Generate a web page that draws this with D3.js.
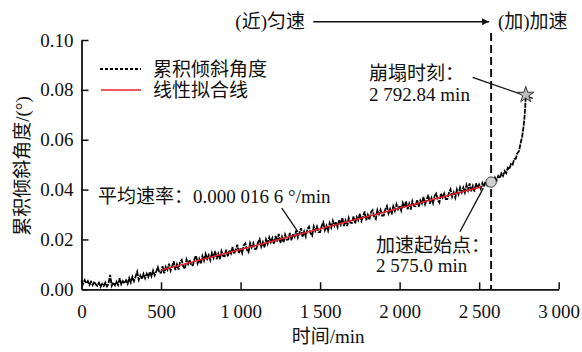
<!DOCTYPE html>
<html><head><meta charset="utf-8">
<script src="https://cdn.jsdelivr.net/npm/d3@7/dist/d3.min.js"></script>
<style>
body{margin:0;background:#fff;}
svg{display:block;}
</style></head>
<body>
<svg id="chart" width="582" height="352"></svg>
<script>
// ---- data ----
const sampleStep = 10; // minutes between samples, starting at t = 0
const tiltValues = [
0.0036,0.0022,0.0037,0.0024,0.0033,0.0018,0.0030,0.0017,0.0031,0.0019,
0.0014,0.0026,0.0010,0.0022,0.0013,0.0027,0.0012,0.0023,0.0058,0.0014,
0.0027,0.0016,0.0031,0.0018,0.0044,0.0020,0.0033,0.0024,0.0036,0.0022,
0.0045,0.0028,0.0050,0.0033,0.0051,0.0070,0.0038,0.0055,0.0041,0.0062,
0.0044,0.0063,0.0049,0.0070,0.0052,0.0075,0.0056,0.0072,0.0088,0.0066,
0.0067,0.0093,0.0064,0.0090,0.0078,0.0103,0.0075,0.0093,0.0112,0.0077,
0.0100,0.0079,0.0109,0.0118,0.0091,0.0082,0.0119,0.0101,0.0118,0.0096,
0.0096,0.0121,0.0135,0.0104,0.0122,0.0102,0.0133,0.0115,0.0142,0.0122,
0.0137,0.0117,0.0146,0.0127,0.0154,0.0121,0.0143,0.0121,0.0153,0.0134,
0.0133,0.0159,0.0131,0.0157,0.0144,0.0170,0.0142,0.0159,0.0179,0.0144,
0.0166,0.0146,0.0176,0.0184,0.0158,0.0149,0.0185,0.0168,0.0185,0.0162,
0.0163,0.0188,0.0201,0.0171,0.0189,0.0168,0.0200,0.0182,0.0208,0.0189,
0.0205,0.0181,0.0214,0.0192,0.0222,0.0186,0.0210,0.0188,0.0219,0.0199,
0.0200,0.0226,0.0197,0.0223,0.0211,0.0236,0.0208,0.0226,0.0245,0.0210,
0.0232,0.0212,0.0242,0.0251,0.0224,0.0215,0.0252,0.0234,0.0251,0.0229,
0.0229,0.0254,0.0268,0.0237,0.0255,0.0235,0.0266,0.0248,0.0275,0.0255,
0.0270,0.0250,0.0279,0.0260,0.0287,0.0254,0.0276,0.0254,0.0286,0.0267,
0.0266,0.0292,0.0264,0.0290,0.0277,0.0303,0.0275,0.0292,0.0312,0.0277,
0.0299,0.0279,0.0309,0.0317,0.0291,0.0282,0.0318,0.0301,0.0318,0.0295,
0.0296,0.0321,0.0334,0.0304,0.0322,0.0301,0.0333,0.0315,0.0341,0.0322,
0.0336,0.0316,0.0346,0.0327,0.0353,0.0321,0.0343,0.0320,0.0353,0.0334,
0.0333,0.0359,0.0331,0.0356,0.0344,0.0370,0.0341,0.0359,0.0379,0.0343,
0.0366,0.0346,0.0375,0.0384,0.0358,0.0348,0.0385,0.0368,0.0384,0.0362,
0.0362,0.0387,0.0401,0.0371,0.0388,0.0368,0.0400,0.0381,0.0408,0.0389,
0.0408,0.0388,0.0418,0.0398,0.0425,0.0393,0.0414,0.0392,0.0425,0.0405,
0.0420,0.0404,0.0426,0.0411,0.0432,0.0418,0.0437,0.0424,0.0440,0.0428,
0.0448,0.0437,0.0455,0.0446,0.0465,0.0455,0.0475,0.0466,0.0488,0.0482,
0.0503,0.0500,0.0522,0.0524,0.0546,0.0553,0.0585,0.0612,0.0657
];
const tailTimes  = [2785, 2790, 2792.84];
const tailValues = [0.0690, 0.0735, 0.0780];

const fitTimes  = [500, 2515];
const fitValues = [0.0077, 0.0411];

const onsetTime = 2575.0, onsetValue = 0.0430;
const collapseTime = 2792.84, collapseValue = 0.0780;

const xTicks = [0, 500, 1000, 1500, 2000, 2500, 3000];
const yTicks = [0.00, 0.02, 0.04, 0.06, 0.08, 0.10];

const legendLabels = ["累积倾斜角度", "线性拟合线"];
const phaseLabels = ["(近)匀速", "(加)加速"];
const xTitle = "时间/min";
const yTitle = "累积倾斜角度/(°)";
const rateLabel = "平均速率：0.000 016 6 °/min";
const onsetLabels = ["加速起始点：", "2 575.0 min"];
const collapseLabels = ["崩塌时刻：", "2 792.84 min"];

// ---- chart ----
const FONT = "Liberation Serif, Times New Roman, Noto Sans CJK SC, serif";
const svg = d3.select("#chart");
const x = d3.scaleLinear().domain([0, 3000]).range([81.5, 558.7]);
const y = d3.scaleLinear().domain([0, 0.10]).range([289.3, 40]);
const FS = 19;

const series = tiltValues.map((v, i) => ({t: i * sampleStep, v}))
  .concat(tailTimes.map((t, i) => ({t, v: tailValues[i]})));

// axes
const thin = "\u2009";
const xAxis = d3.axisBottom(x).tickValues(xTicks).tickSizeInner(-7).tickSizeOuter(0).tickPadding(15)
  .tickFormat(d => d >= 1000 ? Math.floor(d/1000) + thin + d3.format("03d")(d % 1000) : String(d));
const yAxis = d3.axisLeft(y).tickValues(yTicks).tickSizeInner(-7).tickSizeOuter(0).tickPadding(8)
  .tickFormat(d3.format(".2f"));

const gx = svg.append("g").attr("transform", `translate(0,${y(0)})`).call(xAxis);
const gy = svg.append("g").attr("transform", `translate(${x(0)},0)`).call(yAxis);
[gx, gy].forEach(g => {
  g.attr("font-family", null).attr("font-size", null);
  g.selectAll("path.domain").attr("stroke", "#111").attr("stroke-width", 1.8);
  g.selectAll(".tick line").attr("stroke", "#111").attr("stroke-width", 1.5);
  g.selectAll(".tick text").style("font-family", FONT).style("font-size", FS + "px").attr("fill", "#111");
});

// vertical dashed onset line
svg.append("line")
  .attr("x1", x(onsetTime)).attr("x2", x(onsetTime))
  .attr("y1", 33).attr("y2", y(0))
  .attr("stroke", "#111").attr("stroke-width", 2).attr("stroke-dasharray", "8 4");

// data line
const line = d3.line().x(d => x(d.t)).y(d => y(d.v));
svg.append("path").datum(series).attr("d", line)
  .attr("fill", "none").attr("stroke", "#000").attr("stroke-width", 1.8)
  .attr("stroke-dasharray", "5 1");

// fit line
svg.append("path").datum(fitTimes.map((t, i) => ({t, v: fitValues[i]}))).attr("d", line)
  .attr("fill", "none").attr("stroke", "#e8202a").attr("stroke-width", 1.5);

// annotation pointer lines (in data coords)
const pointers = [
  [[2459, 0.0850], [2838, 0.0766]],
  [[2526, 0.0406], [2379, 0.0231]],
  [[1259, 0.0326], [1361, 0.0230]]
];
pointers.forEach(p => {
  svg.append("line")
    .attr("x1", x(p[0][0])).attr("y1", y(p[0][1]))
    .attr("x2", x(p[1][0])).attr("y2", y(p[1][1]))
    .attr("stroke", "#111").attr("stroke-width", 1.3);
});

// markers
svg.append("circle").attr("cx", x(onsetTime)).attr("cy", y(onsetValue)).attr("r", 5.2)
  .attr("fill", "#cfcfcf").attr("stroke", "#444").attr("stroke-width", 1);
svg.append("path").attr("d", d3.symbol(d3.symbolStar, 80)())
  .attr("transform", `translate(${x(collapseTime)},${y(collapseValue)})`)
  .attr("fill", "#bdbdbd").attr("stroke", "#333").attr("stroke-width", 1);

// annotation texts
function txt(px, py, s, anchor) {
  return svg.append("text").attr("x", px).attr("y", py)
    .style("font-family", FONT).style("font-size", FS + "px")
    .attr("fill", "#111").attr("text-anchor", anchor || "start").text(s);
}
txt(x(104), y(0.0346), rateLabel);
txt(x(1851), y(0.0151), onsetLabels[0]);
txt(x(1851), y(0.0071), onsetLabels[1]);
txt(x(1808), y(0.0839), collapseLabels[0]);
txt(x(1808), y(0.0755), collapseLabels[1]);

// phase labels + arrow
svg.append("defs").append("marker").attr("id", "arr")
  .attr("viewBox", "0 0 10 10").attr("refX", 10).attr("refY", 5)
  .attr("markerWidth", 10).attr("markerHeight", 7).attr("markerUnits", "userSpaceOnUse")
  .attr("orient", "auto")
  .append("path").attr("d", "M0,0L10,5L0,10Z").attr("fill", "#111");
txt(x(1405), 28, phaseLabels[0], "end");
svg.append("line").attr("x1", x(1457)).attr("x2", x(onsetTime) - 2)
  .attr("y1", 21.7).attr("y2", 21.7).attr("stroke", "#111").attr("stroke-width", 1.6)
  .attr("marker-end", "url(#arr)");
txt(x(2618), 28, phaseLabels[1]);

// legend
svg.append("line").attr("x1", 100).attr("x2", 141).attr("y1", 69).attr("y2", 69)
  .attr("stroke", "#000").attr("stroke-width", 1.8).attr("stroke-dasharray", "3 2");
svg.append("line").attr("x1", 101).attr("x2", 141).attr("y1", 90).attr("y2", 90)
  .attr("stroke", "#e8202a").attr("stroke-width", 1.3);
txt(153, 69, legendLabels[0]).attr("dominant-baseline", "central");
txt(153, 90, legendLabels[1]).attr("dominant-baseline", "central");

// axis titles
txt((x(0) + x(3000)) / 2 + 8, 343, xTitle, "middle");
svg.append("text").attr("transform", "translate(22,166) rotate(-90)")
  .attr("text-anchor", "middle").attr("dominant-baseline", "central")
  .style("font-family", FONT).style("font-size", FS + "px").attr("fill", "#111").text(yTitle);
</script>
</body></html>
